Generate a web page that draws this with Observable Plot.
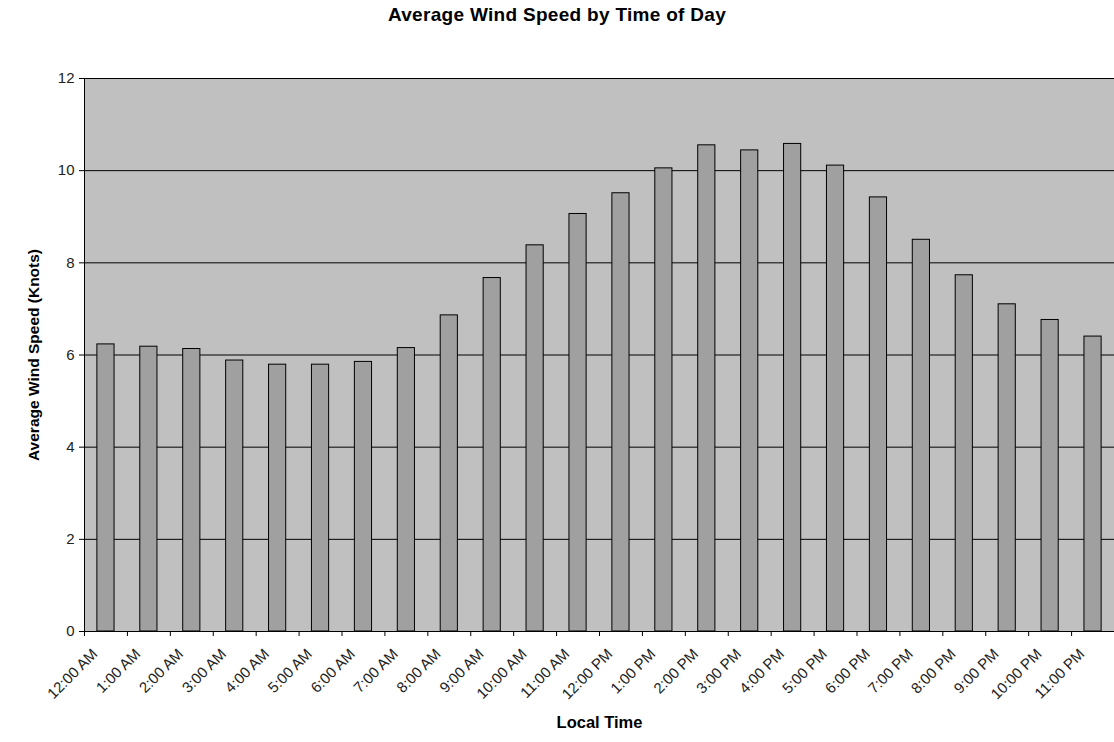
<!DOCTYPE html>
<html>
<head>
<meta charset="utf-8">
<script src="https://cdn.jsdelivr.net/npm/d3@7"></script>
<script src="https://cdn.jsdelivr.net/npm/@observablehq/plot@0.6"></script>
<style>
  body { margin: 0; background: #fff; }
  #title { font-family: "Liberation Sans", Arial, sans-serif; font-weight: bold; font-size: 19px; letter-spacing: 0.3px; text-align: center; height: 30px; line-height: 30px; width: 1114px; color: #000; }
</style>
</head>
<body>
<div id="title">Average Wind Speed by Time of Day</div>
<div id="chart"></div>
<script>
const hours = ["12:00 AM", "1:00 AM", "2:00 AM", "3:00 AM", "4:00 AM", "5:00 AM", "6:00 AM", "7:00 AM",
  "8:00 AM", "9:00 AM", "10:00 AM", "11:00 AM", "12:00 PM", "1:00 PM", "2:00 PM", "3:00 PM",
  "4:00 PM", "5:00 PM", "6:00 PM", "7:00 PM", "8:00 PM", "9:00 PM", "10:00 PM", "11:00 PM"];
const speeds = [6.23, 6.18, 6.13, 5.88, 5.79, 5.79, 5.85, 6.15, 6.86, 7.67, 8.38, 9.06,
  9.51, 10.05, 10.55, 10.44, 10.58, 10.11, 9.42, 8.50, 7.73, 7.10, 6.76, 6.40];
const yTicks = [0, 2, 4, 6, 8, 10, 12];
const xLabel = "Local Time";
const yLabel = "Average Wind Speed (Knots)";

const data = hours.map((h, i) => ({hour: h, speed: speeds[i]}));

const W = 1114, mL = 84, mR = 0;
const step = (W - mL - mR) / hours.length;

const chart = Plot.plot({
  width: W,
  height: 712,
  marginTop: 48,
  marginBottom: 111,
  marginLeft: mL,
  marginRight: mR,
  style: {fontFamily: "'Liberation Sans', Arial, sans-serif", fontSize: "15px", color: "#000", background: "#fff"},
  x: {domain: hours, paddingInner: 0.6, paddingOuter: 0.3, round: false},
  y: {domain: [0, 12]},
  marks: [
    Plot.frame({fill: "#C0C0C0", stroke: null}),
    Plot.ruleY(yTicks, {stroke: "#000", strokeWidth: 1}),
    Plot.barY(data, {x: "hour", y: "speed", fill: "#A0A0A0", stroke: "#000", strokeWidth: 1}),
    Plot.ruleX([hours[0]], {y1: 0, y2: 12, dx: -step / 2, stroke: "#000"}),
    Plot.axisY({ticks: yTicks, tickSize: 5, tickPadding: 5, label: null, fill: "#222"}),
    Plot.axisX({tickSize: 0, tickRotate: -45, tickPadding: 20, dx: -11, label: null, fill: "#222"}),
    Plot.axisX({tickSize: 5, text: null, dx: -step / 2, label: null, stroke: "#000"}),
    Plot.text([xLabel], {text: d => d, frameAnchor: "bottom", dy: 96, fontWeight: "bold", fontSize: 16.5}),
    Plot.text([yLabel], {text: d => d, frameAnchor: "left", textAnchor: "middle", rotate: -90, dx: -50, fontWeight: "bold", fontSize: 15.5})
  ]
});
document.getElementById("chart").appendChild(chart);
</script>
</body>
</html>
